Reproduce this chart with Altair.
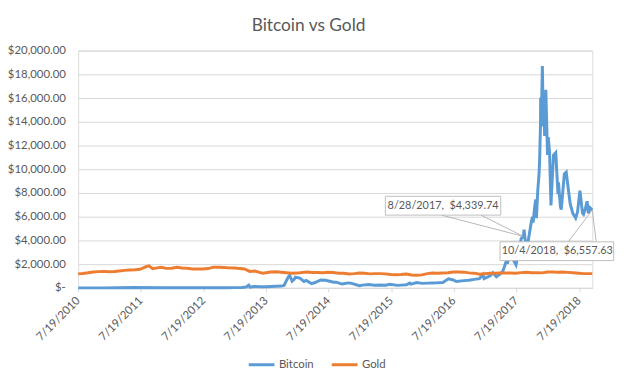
import altair as alt
import pandas as pd

# ---------------- data ----------------
btc_dates = [
    "2010-07-19", "2010-12-15", "2011-06-08", "2011-12-01", "2012-06-01", "2012-12-01",
    "2013-01-15", "2013-02-28", "2013-03-25", "2013-04-09", "2013-04-16", "2013-05-15",
    "2013-06-15", "2013-07-15", "2013-08-15", "2013-09-15", "2013-10-15", "2013-11-01",
    "2013-11-18", "2013-11-30", "2013-12-04", "2013-12-18", "2013-12-31", "2014-01-06",
    "2014-02-01", "2014-02-25", "2014-03-10", "2014-04-10", "2014-05-01", "2014-06-03",
    "2014-07-01", "2014-08-18", "2014-09-01", "2014-10-05", "2014-11-12", "2014-12-01",
    "2015-01-14", "2015-02-01", "2015-03-10", "2015-04-14", "2015-05-15", "2015-06-15",
    "2015-07-12", "2015-08-24", "2015-09-15", "2015-10-15", "2015-11-04", "2015-11-11",
    "2015-12-15", "2016-01-15", "2016-02-15", "2016-03-15", "2016-04-15", "2016-05-15",
    "2016-06-17", "2016-07-15", "2016-08-02", "2016-09-15", "2016-10-15", "2016-11-15",
    "2016-12-15", "2017-01-04", "2017-01-11", "2017-02-15", "2017-03-03", "2017-03-24",
    "2017-04-15", "2017-05-01", "2017-05-25", "2017-05-27", "2017-06-11", "2017-06-25",
    "2017-07-16", "2017-07-25", "2017-08-05", "2017-08-15", "2017-08-28", "2017-09-01",
    "2017-09-14", "2017-09-25", "2017-10-12", "2017-10-20", "2017-10-24", "2017-11-01",
    "2017-11-08", "2017-11-12", "2017-11-20", "2017-11-28", "2017-12-01", "2017-12-06",
    "2017-12-07", "2017-12-10", "2017-12-17", "2017-12-22", "2017-12-26", "2017-12-30",
    "2018-01-06", "2018-01-16", "2018-01-20", "2018-01-28", "2018-02-05", "2018-02-09",
    "2018-02-20", "2018-03-05", "2018-03-18", "2018-03-21", "2018-04-01", "2018-04-06",
    "2018-04-24", "2018-05-05", "2018-05-28", "2018-06-12", "2018-06-29", "2018-07-10",
    "2018-07-24", "2018-08-08", "2018-08-14", "2018-08-25", "2018-09-04", "2018-09-11",
    "2018-09-21", "2018-10-04",
]
btc_values = [
    0.1, 0.3, 30, 3, 6, 13,
    20, 33, 75, 230, 68, 115,
    100, 90, 120, 135, 150, 200,
    700, 1000, 1050, 560, 750, 900,
    820, 540, 630, 360, 450, 670,
    640, 470, 480, 320, 420, 380,
    180, 230, 290, 220, 235, 225,
    310, 210, 230, 260, 400, 310,
    450, 380, 400, 415, 430, 455,
    760, 665, 540, 610, 640, 715,
    780, 1130, 780, 1010, 1280, 940,
    1180, 1420, 2450, 2050, 2950, 2500,
    1930, 2580, 3230, 4150, 4339.74, 4900,
    3240, 3930, 5450, 6000, 5500, 6700,
    7450, 5870, 8200, 9700, 10850, 13800,
    16050, 13800, 18700, 13600, 15800, 12800,
    16700, 11200, 12700, 11400, 6950, 8200,
    11200, 11400, 7900, 8900, 6850, 6600,
    9600, 9750, 7100, 6300, 5880, 6400,
    8200, 6300, 6200, 6700, 7300, 6280,
    6750, 6557.63,
]

gold_dates = [
    "2010-07-19", "2010-08-15", "2010-09-15", "2010-10-15", "2010-11-15", "2010-12-15",
    "2011-01-15", "2011-02-15", "2011-03-15", "2011-04-15", "2011-05-15", "2011-06-15",
    "2011-07-15", "2011-08-15", "2011-09-05", "2011-09-26", "2011-10-15", "2011-11-15",
    "2011-12-15", "2012-01-15", "2012-02-15", "2012-03-15", "2012-04-15", "2012-05-15",
    "2012-06-15", "2012-07-15", "2012-08-15", "2012-09-15", "2012-10-15", "2012-11-15",
    "2012-12-15", "2013-01-15", "2013-02-15", "2013-03-15", "2013-04-15", "2013-05-15",
    "2013-06-15", "2013-07-01", "2013-08-15", "2013-09-15", "2013-10-15", "2013-11-15",
    "2013-12-15", "2014-01-15", "2014-02-15", "2014-03-15", "2014-04-15", "2014-05-15",
    "2014-06-15", "2014-07-15", "2014-08-15", "2014-09-15", "2014-10-15", "2014-11-15",
    "2014-12-15", "2015-01-15", "2015-02-15", "2015-03-15", "2015-04-15", "2015-05-15",
    "2015-06-15", "2015-07-15", "2015-08-15", "2015-09-15", "2015-10-15", "2015-11-15",
    "2015-12-15", "2016-01-15", "2016-02-15", "2016-03-15", "2016-04-15", "2016-05-15",
    "2016-06-15", "2016-07-15", "2016-08-15", "2016-09-15", "2016-10-15", "2016-11-15",
    "2016-12-15", "2017-01-15", "2017-02-15", "2017-03-15", "2017-04-15", "2017-05-15",
    "2017-06-15", "2017-07-15", "2017-08-15", "2017-09-15", "2017-10-15", "2017-11-15",
    "2017-12-15", "2018-01-15", "2018-02-15", "2018-03-15", "2018-04-15", "2018-05-15",
    "2018-06-15", "2018-07-15", "2018-08-15", "2018-09-15", "2018-10-04",
]
gold_values = [
    1180, 1215, 1270, 1345, 1370, 1390,
    1360, 1375, 1425, 1475, 1510, 1530,
    1570, 1760, 1850, 1620, 1665, 1740,
    1645, 1655, 1740, 1675, 1650, 1590,
    1595, 1590, 1625, 1745, 1750, 1720,
    1685, 1670, 1630, 1590, 1390, 1415,
    1290, 1230, 1345, 1350, 1315, 1275,
    1225, 1245, 1300, 1335, 1300, 1290,
    1280, 1315, 1295, 1240, 1225, 1175,
    1200, 1250, 1225, 1180, 1200, 1200,
    1180, 1130, 1115, 1125, 1160, 1085,
    1065, 1095, 1200, 1245, 1240, 1260,
    1275, 1335, 1340, 1325, 1265, 1240,
    1150, 1190, 1235, 1230, 1265, 1245,
    1260, 1235, 1285, 1315, 1280, 1280,
    1265, 1330, 1330, 1325, 1335, 1305,
    1280, 1240, 1200, 1200, 1200,
]

series_names = ["Bitcoin", "Gold"]
series_colors = ["#5B9BD5", "#ED7D31"]
year_ticks = [2010, 2011, 2012, 2013, 2014, 2015, 2016, 2017, 2018]
y_ticks = [0, 2000, 4000, 6000, 8000, 10000, 12000, 14000, 16000, 18000, 20000]

# annotations: text, the point it labels, and the box/leader geometry in data units
ann_text = ["8/28/2017,\u00a0 $4,339.74", "10/4/2018,\u00a0 $6,557.63"]
ann_point_date = ["2017-08-28", "2018-10-04"]
ann_point_value = [4339.74, 6557.63]

df = pd.concat([
    pd.DataFrame({"date": btc_dates, "value": btc_values, "series": "Bitcoin"}),
    pd.DataFrame({"date": gold_dates, "value": gold_values, "series": "Gold"}),
], ignore_index=True)

boxes = pd.DataFrame({
    "x": ["2015-06-15", "2017-04-14"],
    "x2": ["2017-04-18", "2019-02-06"],
    "y": [6133, 2300],
    "y2": [7717, 3883],
    "label": ann_text,
    "cx": ["2016-05-17", "2018-03-14"],
    "cy": [6925, 3092],
})
leaders = pd.DataFrame({
    "x": ["2016-05-07", "2016-12-24", "2018-05-17", "2018-10-27"],
    "y": [6133, 6133, 3883, 3883],
    "x2": [ann_point_date[0], ann_point_date[0], ann_point_date[1], ann_point_date[1]],
    "y2": [ann_point_value[0], ann_point_value[0], ann_point_value[1], ann_point_value[1]],
})

FONT = "Lato"
GREY = "#595959"
GRID = "#D9D9D9"

x_scale = alt.Scale(type="utc", nice=False,
                    domain=[alt.DateTime(year=2010, month=7, date=19, utc=True),
                            alt.DateTime(year=2018, month=10, date=4, utc=True)])
y_scale = alt.Scale(domain=[0, 20000], nice=False, zero=True)

x_axis = alt.Axis(
    values=[alt.DateTime(year=y, month=7, date=19, utc=True) for y in year_ticks],
    format="%-m/%-d/%Y", labelAngle=315, labelAlign="right", labelBaseline="middle",
    labelPadding=7, tickSize=4, tickColor=GRID, domainColor=GRID, grid=False,
    labelFont=FONT, labelFontSize=11.5, labelColor=GREY, labelFlush=False,
    labelOverlap=False, title=None,
)
y_axis = alt.Axis(
    values=y_ticks, tickCount=len(y_ticks),
    labelExpr="datum.value == 0 ? '$-\u00a0\u00a0' : format(datum.value, '$,.2f')",
    domain=False, ticks=False, labelPadding=13, gridColor=GRID, labelOverlap=False,
    labelFont=FONT, labelFontSize=11.5, labelColor=GREY, title=None,
)

lines = alt.Chart(df).mark_line(strokeWidth=3).encode(
    x=alt.X("date:T", scale=x_scale, axis=x_axis),
    y=alt.Y("value:Q", scale=y_scale, axis=y_axis),
    color=alt.Color("series:N",
                    scale=alt.Scale(domain=series_names, range=series_colors),
                    legend=alt.Legend(orient="none", legendX=171, legendY=303,
                                      direction="horizontal", symbolType="stroke",
                                      symbolSize=676, symbolStrokeWidth=3, title=None,
                                      labelFont=FONT, labelFontSize=11.5, labelColor=GREY,
                                      labelOffset=3, columnPadding=11, padding=0)),
)

leader_rules = alt.Chart(leaders).mark_rule(color="#A6A6A6", strokeWidth=0.8).encode(
    x=alt.X("x:T", scale=x_scale, axis=x_axis),
    x2="x2:T",
    y=alt.Y("y:Q", scale=y_scale, axis=y_axis),
    y2="y2:Q",
)

box_rects = alt.Chart(boxes).mark_rect(fill="white", stroke="#BFBFBF", strokeWidth=1).encode(
    x=alt.X("x:T", scale=x_scale, axis=x_axis),
    x2="x2:T",
    y=alt.Y("y:Q", scale=y_scale, axis=y_axis),
    y2="y2:Q",
)

box_text = alt.Chart(boxes).mark_text(font=FONT, fontSize=11, color=GREY,
                                      align="center", baseline="middle").encode(
    x=alt.X("cx:T", scale=x_scale, axis=x_axis),
    y=alt.Y("cy:Q", scale=y_scale, axis=y_axis),
    text="label:N",
)

chart = alt.layer(lines, leader_rules, box_rects, box_text).properties(
    width=520, height=240,
    title=alt.TitleParams("Bitcoin vs Gold", anchor="middle", frame="group", dx=-27,
                          font=FONT, fontSize=17.5, fontWeight="normal", color=GREY,
                          offset=10),
    autosize=alt.AutoSizeParams(type="none"),
    padding={"left": 71, "top": 41, "right": 24, "bottom": 83},
).configure_view(stroke=None).configure(background="white")

chart.save("out.html", embed_options={"renderer": "svg", "actions": False})
